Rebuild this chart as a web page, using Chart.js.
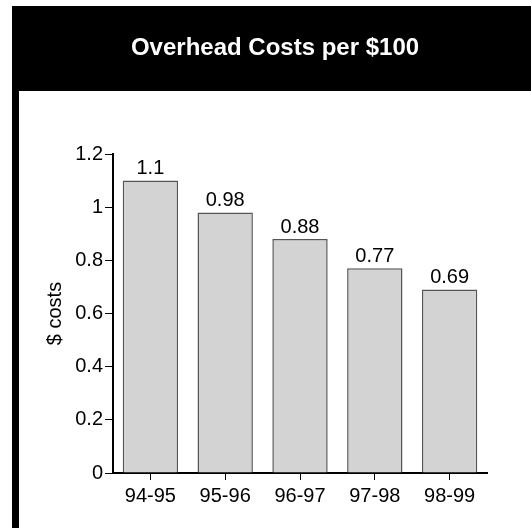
<!DOCTYPE html>
<html>
<head>
<meta charset="utf-8">
<script src="https://cdn.jsdelivr.net/npm/chart.js@4/dist/chart.umd.min.js"></script>
<style>
  html, body { margin: 0; padding: 0; background: #fff; }
  #wrap { width: 531px; height: 529px; }
</style>
</head>
<body>
<div id="wrap"><canvas id="myChart" width="531" height="529"></canvas></div>
<script>
const titleText = 'Overhead Costs per $100';
const labels = ['94-95', '95-96', '96-97', '97-98', '98-99'];
const costs = [1.1, 0.98, 0.88, 0.77, 0.69];
const costLabels = ['1.1', '0.98', '0.88', '0.77', '0.69'];

const FONT = '"Liberation Sans", Arial, sans-serif';

// black header band with title, and left stripe
const frame = {
    id: 'frame',
    beforeDraw(chart) {
        const ctx = chart.ctx;
        ctx.save();
        ctx.fillStyle = '#000';
        ctx.fillRect(12, 6, chart.width - 12, 85);
        ctx.fillRect(12, 6, 7, chart.height - 7);
        ctx.fillStyle = '#fff';
        ctx.font = 'bold 24px ' + FONT;
        ctx.textAlign = 'center';
        ctx.textBaseline = 'middle';
        ctx.fillText(titleText, (19 + chart.width) / 2, 48);
        ctx.restore();
    }
};

// value labels above bars
const barValues = {
    id: 'barValues',
    afterDatasetsDraw(chart) {
        const ctx = chart.ctx;
        const meta = chart.getDatasetMeta(0);
        ctx.save();
        ctx.font = '20px ' + FONT;
        ctx.fillStyle = '#000';
        ctx.textAlign = 'center';
        ctx.textBaseline = 'bottom';
        meta.data.forEach(function (bar, i) {
            ctx.fillText(costLabels[i], bar.x, bar.y - 2);
        });
        ctx.restore();
    }
};

const data = {
    labels: labels,
    datasets: [{
        data: costs,
        backgroundColor: '#d3d3d3',
        borderColor: '#555',
        borderWidth: 1.5,
        barPercentage: 0.74,
        categoryPercentage: 1
    }]
};

const myChart = new Chart(document.getElementById('myChart'), {
    type: 'bar',
    data: data,
    plugins: [frame, barValues],
    options: {
        responsive: false,
        animation: false,
        layout: { padding: { left: 19, right: 44, top: 154, bottom: 16 } },
        plugins: {
            legend: { display: false },
            tooltip: { enabled: false },
            title: { display: false }
        },
        scales: {
            x: {
                afterFit(scale) { scale.height = 40; },
                grid: { display: true, drawOnChartArea: false, drawTicks: true, tickLength: 7, color: '#000', offset: false },
                border: { color: '#000', width: 2 },
                ticks: { color: '#000', padding: 4, font: { family: FONT, size: 20 } }
            },
            y: {
                min: 0,
                max: 1.2,
                afterFit(scale) { scale.width = 94; },
                grid: { display: true, drawOnChartArea: false, drawTicks: true, tickLength: 8, color: '#000' },
                border: { color: '#000', width: 2 },
                ticks: {
                    stepSize: 0.2,
                    color: '#000',
                    padding: 2,
                    font: { family: FONT, size: 20 },
                    callback: function (value) { return String(Number(value.toFixed(1))); }
                },
                title: {
                    display: true,
                    text: '$ costs',
                    color: '#000',
                    font: { family: FONT, size: 20 },
                    padding: { top: 24, bottom: 0 }
                }
            }
        }
    }
});
</script>
</body>
</html>
